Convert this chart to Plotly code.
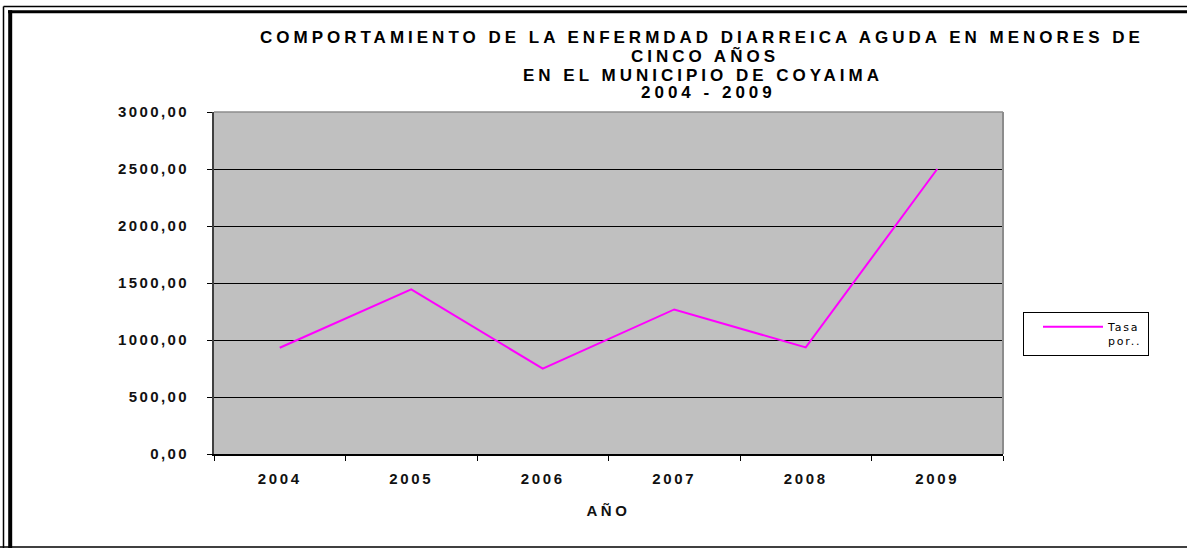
import plotly.graph_objects as go

# Tasa de enfermedad diarreica aguda en menores de cinco años, Coyaima
years = ["2004", "2005", "2006", "2007", "2008", "2009"]
tasa = [932, 1445, 748, 1268, 935, 2500]
series_name = ["Tasa", "por.."]

y_ticks = [0, 500, 1000, 1500, 2000, 2500, 3000]
y_tick_labels = ["0,00", "500,00", "1000,00", "1500,00", "2000,00", "2500,00", "3000,00"]

title_lines = [
    "COMPORTAMIENTO DE LA ENFERMDAD DIARREICA AGUDA EN MENORES DE",
    "CINCO AÑOS",
    "EN EL MUNICIPIO DE COYAIMA",
    "2004 - 2009",
]
x_title = "AÑO"

W, H = 1187, 548
L, R, T, B = 214, 1003, 112, 454   # plot area in pixels


def px(x):
    return (x - L) / (R - L)


def py(y):
    return (B - y) / (B - T)


def spaced(text, ls):
    return f'<span style="letter-spacing:{ls}px">{text}</span>'


FONT = "Liberation Sans"

fig = go.Figure()
fig.add_trace(go.Scatter(
    x=years, y=tasa, mode="lines",
    name="<br>".join(spaced(s, 1.8) for s in series_name),
    line=dict(color="#FF00FF", width=2),
))

# Title lines
title_pos = [(702, 37), (705, 56), (703, 76), (708, 92.5)]
annotations = []
for text, (cx, cy) in zip(title_lines, title_pos):
    annotations.append(dict(
        text=spaced(text, 4.0), x=px(cx), y=py(cy), xref="paper", yref="paper",
        xanchor="center", yanchor="middle", showarrow=False,
        font=dict(family=FONT, size=17, color="black", weight="bold"),
    ))

# Frame around the figure and plot-area border
shapes = []


def seg(x0, y0, x1, y1, color="black", width=1):
    shapes.append(dict(type="line", xref="paper", yref="paper",
                       x0=px(x0), y0=py(y0), x1=px(x1), y1=py(y1),
                       line=dict(color=color, width=width), layer="above"))


seg(3.5, 6.5, 1200, 6.5, width=1.5)
seg(3.5, 6.5, 3.5, 560, width=1.5)
seg(8, 11.8, 1200, 11.8, width=3)
seg(10.2, 10.3, 10.2, 560, width=4)
seg(0, 547, 1200, 547, width=1.5)
# top and right edges of the plot area
seg(L, T, R, T, color="#8c8c8c", width=1.5)
seg(R, T, R, B, color="#8c8c8c", width=2)

tick_font = dict(family=FONT, size=15, color="#111111", weight="bold")

fig.update_layout(
    width=W, height=H,
    margin=dict(l=L, r=W - R, t=T, b=H - B, pad=0),
    paper_bgcolor="white",
    plot_bgcolor="#C0C0C0",
    font=dict(family=FONT, size=15, color="black"),
    annotations=annotations,
    shapes=shapes,
    showlegend=True,
    legend=dict(
        x=px(1023), y=py(312), xanchor="left", yanchor="top",
        bordercolor="black", borderwidth=1, bgcolor="white",
        font=dict(family="DejaVu Sans", size=11, color="black"),
        valign="top", itemwidth=60, indentation=14,
    ),
    xaxis=dict(
        type="category", range=[-0.5, 5.5],
        tickmode="array", tickvals=years,
        ticktext=[spaced(y, 2.6) for y in years],
        tickson="boundaries", ticks="outside", ticklen=5, tickcolor="black",
        showline=True, linecolor="black", linewidth=1.5,
        showgrid=False, zeroline=False, ticklabelstandoff=10,
        tickfont=tick_font,
        title=dict(text=spaced(x_title, 3.6), standoff=20,
                   font=dict(family=FONT, size=15, color="#111111", weight="bold")),
    ),
    yaxis=dict(
        range=[0, 3000], tickmode="array", tickvals=y_ticks,
        ticktext=[spaced(t, 2.4) for t in y_tick_labels],
        ticks="outside", ticklen=5, tickcolor="black",
        showline=True, linecolor="#404040", linewidth=2,
        showgrid=True, gridcolor="black", gridwidth=1,
        zeroline=False, ticklabelstandoff=15,
        tickfont=tick_font,
    ),
)

fig.write_html("out.html")
